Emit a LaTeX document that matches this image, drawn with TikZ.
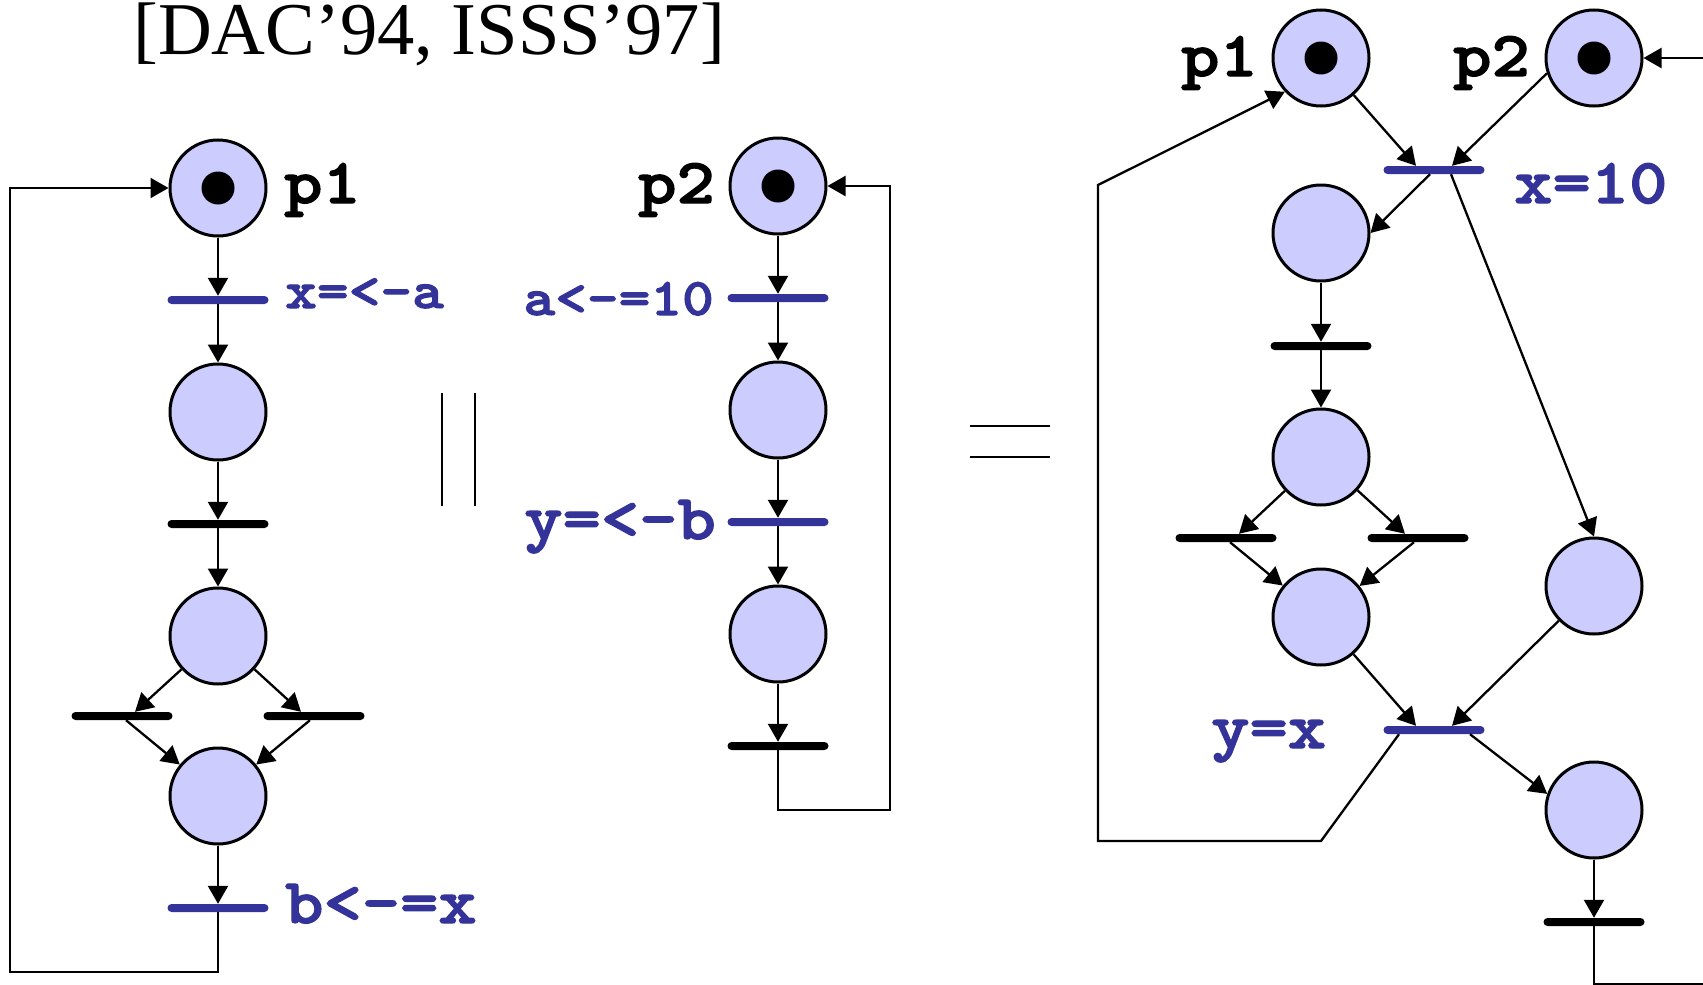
\documentclass[tikz,border=0pt]{standalone}
\usepackage{fontspec}
\setmainfont{Liberation Serif}
\newfontfamily\courfont{lmmonolt10-bold.otf}[FakeStretch=1.14,FakeBold=2]
\usetikzlibrary{arrows.meta,calc}
\definecolor{pfill}{HTML}{CCCCFF}
\definecolor{tblue}{HTML}{333399}
\begin{document}
\begin{tikzpicture}[x=1pt,y=-1pt,
 place/.style={circle,draw=black,line width=3pt,fill=pfill,minimum size=96pt,inner sep=0pt},
 token/.style={circle,fill=black,minimum size=33pt,inner sep=0pt},
 bar/.style={rectangle,fill=black,minimum width=101pt,minimum height=8pt,inner sep=0pt,rounded corners=4pt},
 bbar/.style={bar,fill=tblue},
 conn/.style={line width=2.3pt},
 arr/.style={conn,-{Triangle[length=18pt,width=20pt]}},
 lbl/.style={inner sep=0pt,text=tblue,font=\courfont\fontsize{64}{70}\selectfont},
 slbl/.style={inner sep=0pt,text=tblue,font=\courfont\fontsize{53}{60}\selectfont},
 plbl/.style={lbl,text=black},
]
\useasboundingbox (0,0) rectangle (1703,985);

% title
\node[anchor=base west,inner sep=0pt,font=\fontsize{74.5}{80}\selectfont] (title) at (133,54) {[DAC’94, ISSS’97]};

% ---------- left net ----------
\node[place] (L1) at (218,188) {};
\node[token] (L1t) at (218,188) {};
\node[bbar] (Lt1) at (218,300) {};
\node[place] (L2) at (218,412) {};
\node[bar] (Lt2) at (218,524) {};
\node[place] (L3) at (218,636) {};
\node[bar] (Lt3a) at (122,716) {};
\node[bar] (Lt3b) at (314,716) {};
\node[place] (L4) at (218,796) {};
\node[bbar] (Lt4) at (218,908) {};
\coordinate (cL) at (10,972);

\node[plbl,anchor=base west] (Lp1) at (284,203) {p1};
\node[slbl,anchor=base west] (Llx) at (285,308) {x=<-a};
\node[lbl,anchor=base west] (Llb) at (285,923) {b<-=x};

\draw[arr] (L1) -- (Lt1);
\draw[arr] (Lt1) -- (L2);
\draw[arr] (L2) -- (Lt2);
\draw[arr] (Lt2) -- (L3);
\draw[arr] (L3) -- ($(Lt3a.north)+(13,0)$);
\draw[arr] (L3) -- ($(Lt3b.north)+(-13,0)$);
\draw[arr] ($(Lt3a.south)+(4,0)$) -- (L4);
\draw[arr] ($(Lt3b.south)+(-4,0)$) -- (L4);
\draw[arr] (L4) -- (Lt4);
\draw[arr] (Lt4.south) |- (cL) |- (L1.west);

% parallel sign
\draw[conn] (442,393) -- (442,506);
\draw[conn] (475,393) -- (475,506);

% ---------- middle net ----------
\node[place] (M1) at (778,186) {};
\node[token] (M1t) at (778,186) {};
\node[bbar] (Mt1) at (778,298) {};
\node[place] (M2) at (778,410) {};
\node[bbar] (Mt2) at (778,522) {};
\node[place] (M3) at (778,634) {};
\node[bar] (Mt3) at (778,746) {};
\coordinate (cM) at (890,810);

\node[plbl,anchor=base east] (Mp2) at (715,203) {p2};
\node[slbl,anchor=base east] (Mla) at (714,315) {a<-=10};
\node[lbl,anchor=base east] (Mly) at (716,539) {y=<-b};

\draw[arr] (M1) -- (Mt1);
\draw[arr] (Mt1) -- (M2);
\draw[arr] (M2) -- (Mt2);
\draw[arr] (Mt2) -- (M3);
\draw[arr] (M3) -- (Mt3);
\draw[arr] (Mt3.south) |- (cM) |- (M1.east);

% equals sign
\draw[conn] (970,426) -- (1050,426);
\draw[conn] (970,457) -- (1050,457);

% ---------- right net ----------
\node[place] (R1) at (1321,58) {};
\node[token] (R1t) at (1321,58) {};
\node[place] (R2) at (1594,58) {};
\node[token] (R2t) at (1594,58) {};
\node[bbar] (Rt1) at (1434,170) {};
\node[place] (RA) at (1321,233) {};
\node[bar] (Rt2) at (1321,346) {};
\node[place] (RC) at (1321,457) {};
\node[bar] (Rt3a) at (1226,538) {};
\node[bar] (Rt3b) at (1418,538) {};
\node[place] (RD) at (1321,617) {};
\node[place] (RB) at (1594,586) {};
\node[bbar] (Rt4) at (1434,730) {};
\node[place] (RE) at (1594,810) {};
\node[bar] (Rt5) at (1594,922) {};
\coordinate (cR0) at (1703,58);
\coordinate (cR1) at (1321,841);
\coordinate (cR2) at (1098,841);
\coordinate (cR3) at (1098,185);
\coordinate (cR5) at (1703,984);

\node[plbl,anchor=base east] (Rp1) at (1258,76) {p1};
\node[plbl,anchor=base east] (Rp2) at (1530,76) {p2};
\node[lbl,anchor=base west] (Rlx) at (1514,203) {x=10};
\node[lbl,anchor=base west] (Rly) at (1211,748) {y=x};

\draw[arr] (cR0) -- (R2.east);
\draw[arr] (R1) -- ($(Rt1.north)+(-18,0)$);
\draw[arr] (R2.198) -- ($(Rt1.north)+(18,0)$);
\draw[arr] ($(Rt1.south)+(-4,0)$) -- (RA.east);
\draw[arr] ($(Rt1.south)+(17,0)$) -- (RB.north);
\draw[arr] (RA) -- (Rt2);
\draw[arr] (Rt2) -- (RC);
\draw[arr] (RC) -- ($(Rt3a.north)+(13,0)$);
\draw[arr] (RC) -- ($(Rt3b.north)+(-13,0)$);
\draw[arr] ($(Rt3a.south)+(4,0)$) -- (RD);
\draw[arr] ($(Rt3b.south)+(-4,0)$) -- (RD);
\draw[arr] (RD) -- ($(Rt4.north)+(-18,0)$);
\draw[arr] (RB) -- ($(Rt4.north)+(18,0)$);
\draw[arr] ($(Rt4.south)+(36,0)$) -- (RE.161);
\draw[arr] ($(Rt4.south)+(-35,0)$) -- (cR1) -- (cR2) -- (cR3) -- (R1.223);
\draw[arr] (RE) -- (Rt5);
\draw[conn] (Rt5.south) |- (cR5);
\end{tikzpicture}
\end{document}
